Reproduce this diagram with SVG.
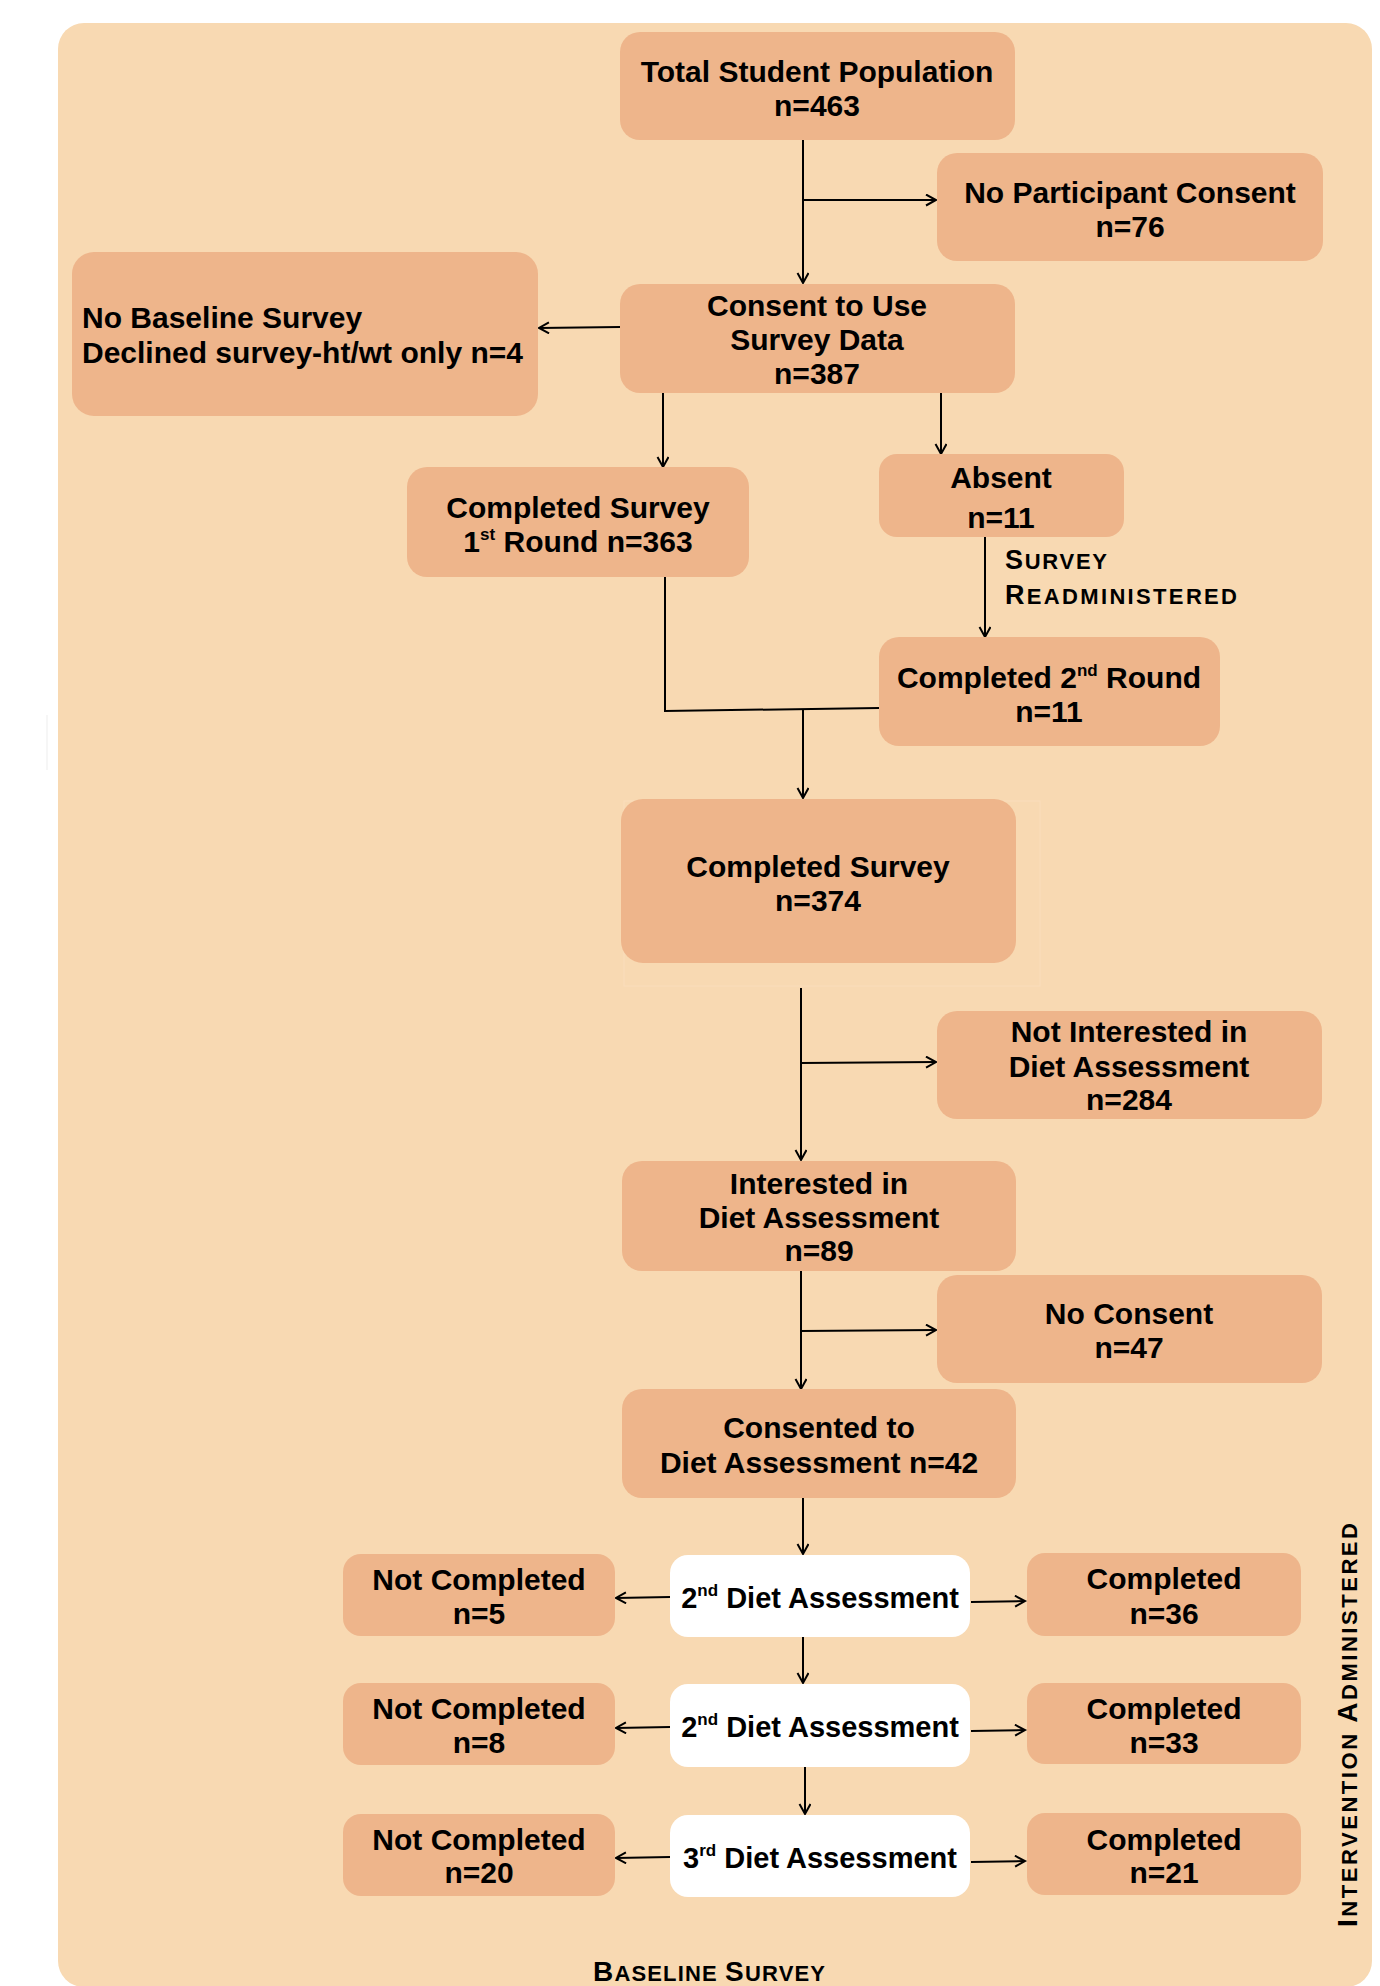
<svg xmlns="http://www.w3.org/2000/svg" width="1380" height="1986" viewBox="0 0 1380 1986">
<defs>
<style>
.bg{fill:#F8D9B2}
.box{fill:#EEB58B}
.wbox{fill:#FFFFFF}
.t{font-family:"Liberation Sans",Arial,sans-serif;font-weight:bold;font-size:30px;fill:#000;text-anchor:middle}
.tw{font-size:29px}
.tl{text-anchor:start}
.sc{font-family:"Liberation Sans",Arial,sans-serif;font-weight:bold;fill:#000}
.sup{font-size:17px}
.c line,.c polyline{stroke:#000;stroke-width:2;fill:none}
.a{marker-end:url(#arr)}
</style>
<marker id="arr" markerUnits="userSpaceOnUse" markerWidth="14" markerHeight="14" refX="11" refY="6" orient="auto">
<path d="M1,0.5 L11,6 L1,11.5" fill="none" stroke="#000" stroke-width="2"/>
</marker>
</defs>
<rect class="bg" x="58" y="23" width="1314" height="1964" rx="26"/>
<line x1="47" y1="715" x2="47" y2="770" stroke="#EDEDED" stroke-width="1"/>
<rect x="624" y="801" width="416" height="185" fill="none" stroke="#FADDBB" stroke-width="1"/>

<g class="c" id="connectors">
<line class="a" x1="803" y1="140" x2="803" y2="283"/>
<line class="a" x1="803" y1="200" x2="936" y2="200"/>
<line class="a" x1="620" y1="327" x2="539" y2="328"/>
<line class="a" x1="663" y1="393" x2="663" y2="467"/>
<line class="a" x1="941" y1="393" x2="941" y2="454"/>
<line class="a" x1="985" y1="537" x2="985" y2="637"/>
<polyline points="665,577 665,711 879,708"/>
<line class="a" x1="803" y1="709" x2="803" y2="798"/>
<line class="a" x1="801" y1="988" x2="801" y2="1160"/>
<line class="a" x1="801" y1="1063" x2="936" y2="1062"/>
<line class="a" x1="801" y1="1271" x2="801" y2="1389"/>
<line class="a" x1="801" y1="1331" x2="936" y2="1330"/>
<line class="a" x1="803" y1="1498" x2="803" y2="1554"/>
<line class="a" x1="670" y1="1597" x2="616" y2="1598"/>
<line class="a" x1="971" y1="1602" x2="1025" y2="1601"/>
<line class="a" x1="803" y1="1637" x2="803" y2="1683"/>
<line class="a" x1="670" y1="1727" x2="616" y2="1728"/>
<line class="a" x1="971" y1="1731" x2="1025" y2="1730"/>
<line class="a" x1="805" y1="1767" x2="805" y2="1814"/>
<line class="a" x1="670" y1="1857" x2="616" y2="1858"/>
<line class="a" x1="971" y1="1862" x2="1025" y2="1861"/>
</g>

<g id="n-total">
<rect class="box" x="620" y="32" width="395" height="108" rx="20"/>
<text class="t" x="817" y="82">Total Student Population</text>
<text class="t" x="817" y="116">n=463</text>
</g>
<g id="n-noconsent76">
<rect class="box" x="937" y="153" width="386" height="108" rx="20"/>
<text class="t" x="1130" y="203">No Participant Consent</text>
<text class="t" x="1130" y="237">n=76</text>
</g>
<g id="n-consent387">
<rect class="box" x="620" y="284" width="395" height="109" rx="20"/>
<text class="t" x="817" y="316">Consent to Use</text>
<text class="t" x="817" y="350">Survey Data</text>
<text class="t" x="817" y="384">n=387</text>
</g>
<g id="n-nobaseline">
<rect class="box" x="72" y="252" width="466" height="164" rx="22"/>
<text class="t tl" x="82" y="328">No Baseline Survey</text>
<text class="t tl" x="82" y="363">Declined survey-ht/wt only n=4</text>
</g>
<g id="n-round1">
<rect class="box" x="407" y="467" width="342" height="110" rx="20"/>
<text class="t" x="578" y="518">Completed Survey</text>
<text class="t" x="578" y="552"><tspan>1</tspan><tspan class="sup" dy="-12">st</tspan><tspan dy="12"> Round n=363</tspan></text>
</g>
<g id="n-absent">
<rect class="box" x="879" y="454" width="245" height="83" rx="18"/>
<text class="t" x="1001" y="488">Absent</text>
<text class="t" x="1001" y="528">n=11</text>
</g>
<g id="n-round2">
<rect class="box" x="879" y="637" width="341" height="109" rx="20"/>
<text class="t" x="1049" y="688"><tspan>Completed 2</tspan><tspan class="sup" dy="-12">nd</tspan><tspan dy="12"> Round</tspan></text>
<text class="t" x="1049" y="722">n=11</text>
</g>
<text class="sc" x="1005" y="569" textLength="102" lengthAdjust="spacing"><tspan font-size="27">S</tspan><tspan font-size="22">URVEY</tspan></text>
<text class="sc" x="1005" y="604" textLength="232" lengthAdjust="spacing"><tspan font-size="27">R</tspan><tspan font-size="22">EADMINISTERED</tspan></text>
<g id="n-completed374">
<rect class="box" x="621" y="799" width="395" height="164" rx="22"/>
<text class="t" x="818" y="877">Completed Survey</text>
<text class="t" x="818" y="911">n=374</text>
</g>
<g id="n-notinterested">
<rect class="box" x="937" y="1011" width="385" height="108" rx="20"/>
<text class="t" x="1129" y="1042">Not Interested in</text>
<text class="t" x="1129" y="1077">Diet Assessment</text>
<text class="t" x="1129" y="1110">n=284</text>
</g>
<g id="n-interested">
<rect class="box" x="622" y="1161" width="394" height="110" rx="20"/>
<text class="t" x="819" y="1194">Interested in</text>
<text class="t" x="819" y="1228">Diet Assessment</text>
<text class="t" x="819" y="1261">n=89</text>
</g>
<g id="n-noconsent47">
<rect class="box" x="937" y="1275" width="385" height="108" rx="20"/>
<text class="t" x="1129" y="1324">No Consent</text>
<text class="t" x="1129" y="1358">n=47</text>
</g>
<g id="n-consented42">
<rect class="box" x="622" y="1389" width="394" height="109" rx="20"/>
<text class="t" x="819" y="1438">Consented to</text>
<text class="t" x="819" y="1473">Diet Assessment n=42</text>
</g>

<g id="n-nc5">
<rect class="box" x="343" y="1554" width="272" height="82" rx="18"/>
<text class="t" x="479" y="1590">Not Completed</text>
<text class="t" x="479" y="1624">n=5</text>
</g>
<g id="n-da1">
<rect class="wbox" x="670" y="1555" width="300" height="82" rx="18"/>
<text class="t tw" x="820" y="1608"><tspan>2</tspan><tspan class="sup" dy="-12">nd</tspan><tspan dy="12"> Diet Assessment</tspan></text>
</g>
<g id="n-c36">
<rect class="box" x="1027" y="1553" width="274" height="83" rx="18"/>
<text class="t" x="1164" y="1589">Completed</text>
<text class="t" x="1164" y="1624">n=36</text>
</g>

<g id="n-nc8">
<rect class="box" x="343" y="1683" width="272" height="82" rx="18"/>
<text class="t" x="479" y="1719">Not Completed</text>
<text class="t" x="479" y="1753">n=8</text>
</g>
<g id="n-da2">
<rect class="wbox" x="670" y="1684" width="300" height="83" rx="18"/>
<text class="t tw" x="820" y="1737"><tspan>2</tspan><tspan class="sup" dy="-12">nd</tspan><tspan dy="12"> Diet Assessment</tspan></text>
</g>
<g id="n-c33">
<rect class="box" x="1027" y="1683" width="274" height="81" rx="18"/>
<text class="t" x="1164" y="1719">Completed</text>
<text class="t" x="1164" y="1753">n=33</text>
</g>

<g id="n-nc20">
<rect class="box" x="343" y="1814" width="272" height="82" rx="18"/>
<text class="t" x="479" y="1850">Not Completed</text>
<text class="t" x="479" y="1883">n=20</text>
</g>
<g id="n-da3">
<rect class="wbox" x="670" y="1815" width="300" height="82" rx="18"/>
<text class="t tw" x="820" y="1868"><tspan>3</tspan><tspan class="sup" dy="-12">rd</tspan><tspan dy="12"> Diet Assessment</tspan></text>
</g>
<g id="n-c21">
<rect class="box" x="1027" y="1813" width="274" height="82" rx="18"/>
<text class="t" x="1164" y="1850">Completed</text>
<text class="t" x="1164" y="1883">n=21</text>
</g>

<text class="sc" x="593" y="1981" textLength="232" lengthAdjust="spacing"><tspan font-size="28">B</tspan><tspan font-size="22">ASELINE </tspan><tspan font-size="28">S</tspan><tspan font-size="22">URVEY</tspan></text>
<text class="sc" transform="translate(1357,1927) rotate(-90)" x="0" y="0" textLength="404" lengthAdjust="spacing"><tspan font-size="28">I</tspan><tspan font-size="22">NTERVENTION </tspan><tspan font-size="28">A</tspan><tspan font-size="22">DMINISTERED</tspan></text>
</svg>
